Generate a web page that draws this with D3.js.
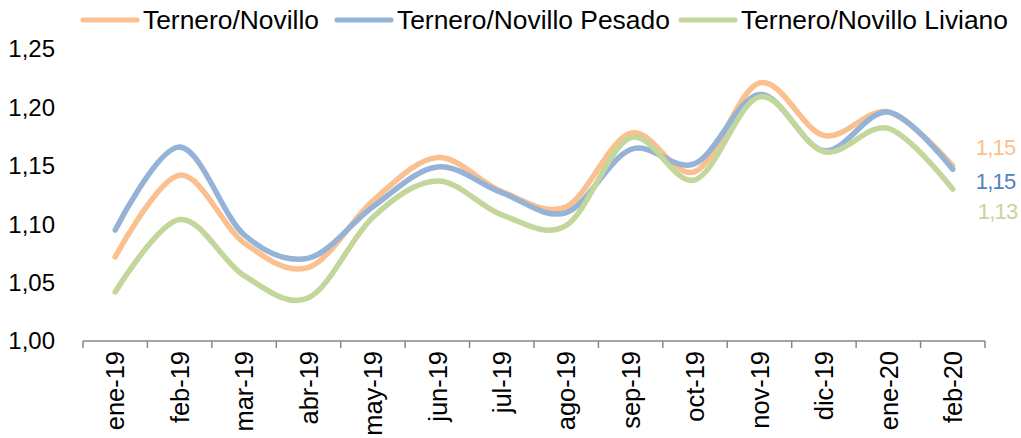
<!DOCTYPE html>
<html>
<head>
<meta charset="utf-8">
<script src="https://cdn.jsdelivr.net/npm/d3@7"></script>
<style>
  body { margin: 0; background: #fff; }
  text { font-family: "Liberation Sans", Arial, sans-serif; }
</style>
</head>
<body>
<script>
(function () {

    const months = ['ene-19', 'feb-19', 'mar-19', 'abr-19', 'may-19', 'jun-19', 'jul-19',
        'ago-19', 'sep-19', 'oct-19', 'nov-19', 'dic-19', 'ene-20', 'feb-20'];

    const novillo = [1.072, 1.142, 1.084, 1.063, 1.120, 1.157, 1.128, 1.115, 1.178, 1.145, 1.221, 1.176, 1.196, 1.150];
    const pesado = [1.095, 1.166, 1.091, 1.071, 1.115, 1.149, 1.127, 1.110, 1.164, 1.152, 1.211, 1.163, 1.196, 1.147];
    const liviano = [1.042, 1.104, 1.056, 1.037, 1.106, 1.137, 1.108, 1.099, 1.174, 1.138, 1.209, 1.162, 1.182, 1.130];

    const yTicks = [1.00, 1.05, 1.10, 1.15, 1.20, 1.25];

    const series = [
        {name: 'Ternero/Novillo', values: novillo, color: '#FAC090', labelColor: '#FAC090', dy: -19, dx: 23},
        {name: 'Ternero/Novillo Pesado', values: pesado, color: '#95B3D7', labelColor: '#4F81BD', dy: 12, dx: 23},
        {name: 'Ternero/Novillo Liviano', values: liviano, color: '#C3D69B', labelColor: '#C3D69B', dy: 22, dx: 25}
    ];

    const margin = {top: 49, left: 83, right: 36, bottom: 97};
    const W = 1021, H = 438;
    const width = W - margin.left - margin.right,
        height = H - margin.top - margin.bottom;

    const fmt = v => d3.format('.2f')(v).replace('.', ',');

    const svg = d3.select('body')
        .append('svg')
        .attr('width', W)
        .attr('height', H);

    const g = svg.append('g')
        .attr('transform', 'translate(' + margin.left + ',' + margin.top + ')');

    const x = d3.scaleBand()
        .domain(months)
        .range([0, width]);

    const y = d3.scaleLinear()
        .domain([1.00, 1.25])
        .range([height, 0]);

    // y labels only, no axis line
    g.selectAll('.ylab')
        .data(yTicks)
        .enter()
        .append('text')
        .attr('x', -28)
        .attr('y', d => y(d))
        .attr('dy', '0.35em')
        .attr('text-anchor', 'end')
        .attr('font-size', 24)
        .attr('fill', '#000')
        .text(fmt);

    // x axis
    const xAxis = g.append('g')
        .attr('transform', 'translate(0,' + height + ')');

    xAxis.append('line')
        .attr('x1', 0)
        .attr('x2', width)
        .attr('stroke', '#868686')
        .attr('stroke-width', 1.5);

    const bounds = months.map(m => x(m)).concat([width]);
    xAxis.selectAll('.tick')
        .data(bounds)
        .enter()
        .append('line')
        .attr('x1', d => d)
        .attr('x2', d => d)
        .attr('y1', 0)
        .attr('y2', 7)
        .attr('stroke', '#868686')
        .attr('stroke-width', 1.5);

    xAxis.selectAll('.xlab')
        .data(months)
        .enter()
        .append('text')
        .attr('transform', d => 'translate(' + (x(d) + x.bandwidth() / 2) + ',10) rotate(-90) scale(1.06,1.1)')
        .attr('dy', '0.35em')
        .attr('text-anchor', 'end')
        .attr('font-size', 24)
        .attr('fill', '#000')
        .text(d => d);

    const line = d3.line()
        .x((d, i) => x(months[i]) + x.bandwidth() / 2)
        .y(d => y(d))
        .curve(d3.curveCardinal.tension(0));

    g.selectAll('.series')
        .data(series)
        .enter()
        .append('path')
        .attr('d', d => line(d.values))
        .attr('fill', 'none')
        .attr('stroke', d => d.color)
        .attr('stroke-width', 5.5)
        .attr('stroke-linecap', 'round');

    // end labels
    const last = months.length - 1;
    g.selectAll('.endlab')
        .data(series)
        .enter()
        .append('text')
        .attr('x', d => x(months[last]) + x.bandwidth() / 2 + d.dx)
        .attr('y', d => y(d.values[last]) + d.dy)
        .attr('dy', '0.35em')
        .attr('font-family', 'Lato, "Open Sans", sans-serif')
        .attr('font-weight', 300)
        .attr('font-size', 22)
        .attr('letter-spacing', -0.8)
        .attr('fill', d => d.labelColor)
        .text(d => fmt(d.values[last]));

    // legend
    const legendX = [83, 337, 681];
    const leg = svg.selectAll('.leg')
        .data(series)
        .enter()
        .append('g')
        .attr('transform', (d, i) => 'translate(' + legendX[i] + ',20)');

    leg.append('line')
        .attr('x1', 0)
        .attr('x2', 54)
        .attr('stroke', d => d.color)
        .attr('stroke-width', 5)
        .attr('stroke-linecap', 'round');

    leg.append('text')
        .attr('transform', 'translate(60,0) scale(1.1,1.05)')
        .attr('dy', '0.35em')
        .attr('font-size', 24)
        .attr('fill', '#000')
        .text(d => d.name);

})();
</script>
</body>
</html>
